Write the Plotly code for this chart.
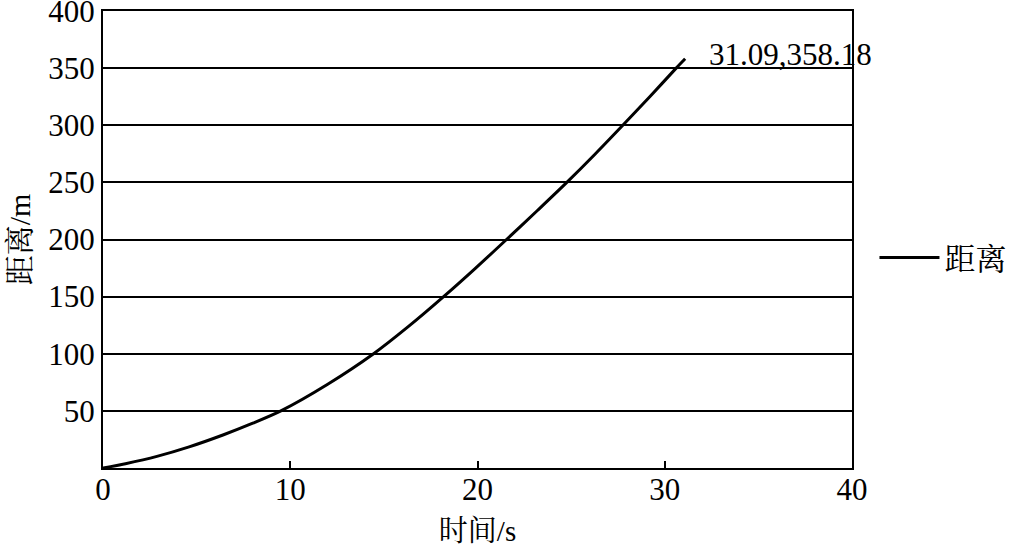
import plotly.graph_objects as go

# Data
time_s = [0, 1.2, 2.88, 4.6, 6.44, 8.0, 9.5, 12.0, 14.45, 16.3, 18.19, 19.9, 21.55, 23.2, 24.77, 26.3, 27.76, 29.2, 30.61, 31.09]
distance_m = [0, 3.8, 10.2, 18.5, 29.1, 39.2, 50, 73.3, 100, 123.7, 150, 175, 200, 225.4, 250, 275.1, 300, 324.9, 350, 358.18]
end_label = "31.09,358.18"
x_ticks = [0, 10, 20, 30, 40]
y_ticks = [50, 100, 150, 200, 250, 300, 350, 400]

serif = "Liberation Serif, Times New Roman, Noto Serif CJK SC, Noto Sans CJK SC, serif"

fig = go.Figure()
fig.add_trace(go.Scatter(
    x=time_s, y=distance_m, mode="lines", name="距离",
    line=dict(color="black", width=3, shape="spline", smoothing=0.8),
))

fig.add_annotation(
    x=time_s[-1], y=distance_m[-1], text=end_label, showarrow=False,
    xanchor="left", yanchor="middle", xshift=22, yshift=4,
    font=dict(family=serif, size=31, color="black"),
)

fig.update_layout(
    width=1013, height=547,
    margin=dict(l=103, r=161, t=11, b=79, autoexpand=False),
    paper_bgcolor="white", plot_bgcolor="white",
    font=dict(family=serif, size=31, color="black"),
    showlegend=True,
    legend=dict(x=1.03, y=0.46, xanchor="left", yanchor="middle",
                font=dict(family=serif, size=31, color="black"),
                bgcolor="rgba(0,0,0,0)", itemwidth=60),
    xaxis=dict(
        range=[0, 40], tickvals=x_ticks, ticks="inside", ticklen=7, tickwidth=1.5,
        tickcolor="black", showgrid=False, zeroline=False, automargin=False,
        showline=True, linecolor="black", linewidth=2, mirror=True,
        title=dict(text="时间/s", font=dict(size=29), standoff=21),
        tickfont=dict(size=31), ticklabeloverflow="allow", ticklabelstandoff=-7,
    ),
    yaxis=dict(
        range=[0, 400], tickvals=y_ticks, ticks="", showgrid=True,
        gridcolor="black", gridwidth=1.5, zeroline=False, automargin=False,
        showline=True, linecolor="black", linewidth=2, mirror=True,
        title=dict(text="距离/m", font=dict(size=30), standoff=9),
        tickfont=dict(size=31), ticklabeloverflow="allow",
    ),
)

fig.write_html("out.html", config={"displayModeBar": False},
               post_script="document.body.style.margin='0';")
